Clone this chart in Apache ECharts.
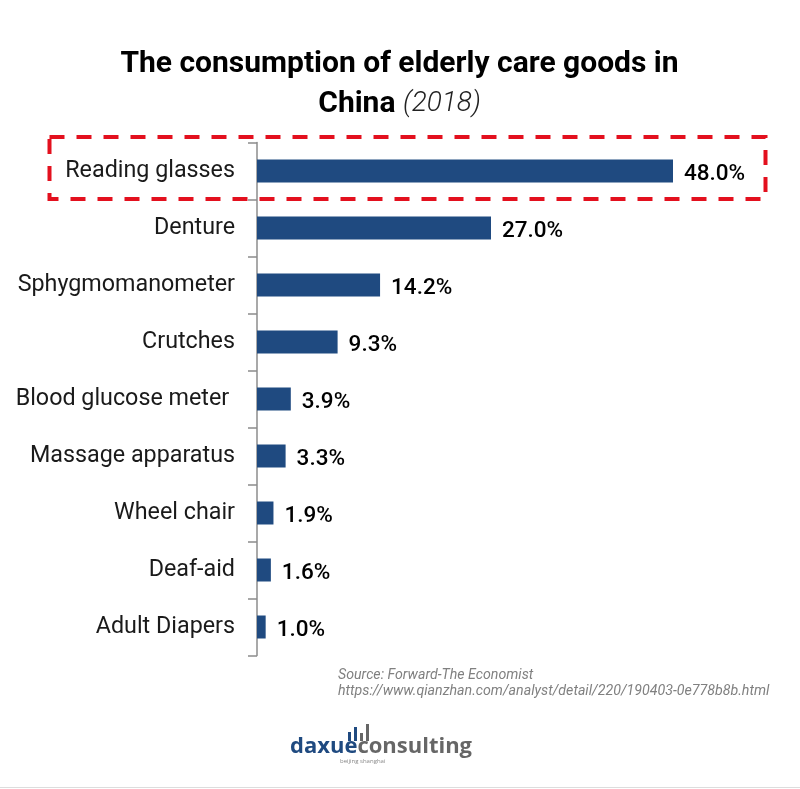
<!DOCTYPE html>
<html>
<head>
<meta charset="utf-8">
<style>html,body{margin:0;padding:0;background:#fff}#main{width:800px;height:789px}</style>
<script src="https://cdn.jsdelivr.net/npm/echarts@6/dist/echarts.min.js"></script>
</head>
<body>
<div id="main"></div>
<script>
var categories = ['Reading glasses', 'Denture', 'Sphygmomanometer', 'Crutches', 'Blood glucose meter ', 'Massage apparatus', 'Wheel chair', 'Deaf-aid', 'Adult Diapers'];
var shares = [48.0, 27.0, 14.2, 9.3, 3.9, 3.3, 1.9, 1.6, 1.0];
var sourceLines = ['Source: Forward-The Economist', 'https://www.qianzhan.com/analyst/detail/220/190403-0e778b8b.html'];

var myChart = echarts.init(document.getElementById('main'));
var option = {
    backgroundColor: '#fff',
    animation: false,
    title: {
        text: '{t|The consumption of elderly care goods in}\n{t|China }{y|(2018)}',
        left: 394.5,
        top: 39,
        textAlign: 'center',
        textStyle: {
            rich: {
                t: {fontFamily: 'Roboto', fontSize: 30, fontWeight: 700, color: '#000', lineHeight: 40},
                y: {fontFamily: 'Roboto', fontSize: 28, fontStyle: 'italic', fontWeight: 300, color: '#222', lineHeight: 40}
            }
        }
    },
    grid: {left: 257, top: 142.5, width: 520, height: 513},
    xAxis: {type: 'value', min: 0, max: 60, show: false},
    yAxis: {
        type: 'category',
        inverse: true,
        data: categories,
        axisLine: {lineStyle: {color: '#8c8c8c', width: 1.5}},
        axisTick: {show: true, length: 9, lineStyle: {color: '#8c8c8c', width: 1.5}},
        axisLabel: {
            fontFamily: 'Roboto',
            fontSize: 23.3,
            color: '#1a1a1a',
            margin: 22,
            padding: [8, 0, 0, 0],
            interval: 0
        }
    },
    series: [{
        type: 'bar',
        data: shares,
        barWidth: 23,
        itemStyle: {color: '#1f4a80'},
        label: {
            show: true,
            position: 'right',
            distance: 11,
            offset: [0, 3],
            fontFamily: 'Roboto',
            fontSize: 22.5,
            fontWeight: 500,
            color: '#000',
            formatter: function (p) { return p.value.toFixed(1) + '%'; }
        }
    }],
    graphic: [
        // highlight box round the first row
        {type: 'rect', shape: {x: 49.5, y: 137, width: 716, height: 62}, style: {fill: 'none', stroke: '#e3101e', lineWidth: 4, lineDash: [15, 12]}, z: 10},
        {type: 'text', left: 338, top: 668, style: {text: sourceLines[0], fontFamily: 'Roboto', fontStyle: 'italic', fontSize: 14.2, fill: '#808080'}},
        {type: 'text', left: 338, top: 684, style: {text: sourceLines[1], fontFamily: 'Roboto', fontStyle: 'italic', fontSize: 14.2, fill: '#808080'}},
        // logo
        {type: 'rect', shape: {x: 348, y: 732, width: 3, height: 9}, style: {fill: '#1f4a80'}},
        {type: 'rect', shape: {x: 354, y: 727, width: 3, height: 14}, style: {fill: '#1f4a80'}},
        {type: 'rect', shape: {x: 360, y: 733, width: 3, height: 8}, style: {fill: '#666'}},
        {type: 'rect', shape: {x: 366, y: 724, width: 3, height: 17}, style: {fill: '#666'}},
        {type: 'text', left: 290, top: 736, style: {text: '{a|daxue}{b|consulting}', rich: {
            a: {fontFamily: 'Open Sans', fontWeight: 700, fontSize: 22, fill: '#1f4a80'},
            b: {fontFamily: 'Open Sans', fontWeight: 700, fontSize: 22, fill: '#666'}
        }}},
        {type: 'text', left: 340, top: 758, style: {text: 'beijing shanghai', fontFamily: 'Open Sans', fontSize: 6, fill: '#888'}},
        {type: 'rect', shape: {x: 0, y: 787, width: 800, height: 1}, style: {fill: '#ddd'}}
    ]
};
myChart.setOption(option);
</script>
</body>
</html>
